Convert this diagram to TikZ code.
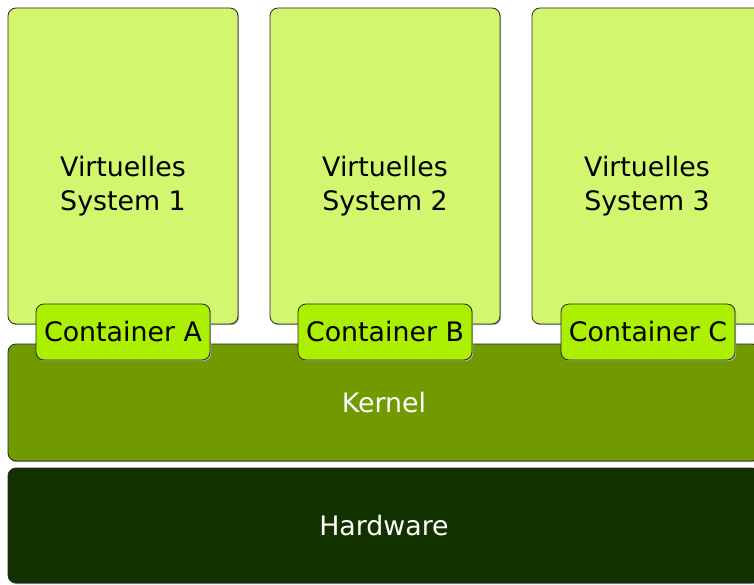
\documentclass[tikz,border=0pt]{standalone}
\usepackage{fontspec}
\setmainfont{DejaVu Sans}
\usetikzlibrary{shadows}

\definecolor{vmgreen}{RGB}{210,247,110}
\definecolor{ctgreen}{RGB}{170,240,0}
\definecolor{kngreen}{RGB}{112,154,0}
\definecolor{hwgreen}{RGB}{18,50,0}

\begin{document}
\begin{tikzpicture}[x=1pt, y=-1pt,
    box/.style={draw=black!85, line width=0.8pt, rounded corners=8pt, inner sep=0pt,
                drop shadow={shadow xshift=1.2pt, shadow yshift=-1.2pt, fill=black!30, opacity=1}},
    vmbox/.style={box, fill=vmgreen, minimum width=230pt, minimum height=316pt},
    ctbox/.style={box, fill=ctgreen, minimum width=174pt, minimum height=56pt},
    layer/.style={box, minimum width=752pt, minimum height=117pt, text=white},
    lbl/.style={font=\fontsize{26.8}{34}\selectfont, align=center}]
            \useasboundingbox (0,0) rectangle (754,585);
            \clip (0,0) rectangle (754,585);

            \node at (123,166) [vmbox] (vs1) {};
            \node at (385,166) [vmbox] (vs2) {};
            \node at (647,166) [vmbox] (vs3) {};
            \node at (123,186) [lbl] (vs1txt) {Virtuelles\\System 1};
            \node at (385,186) [lbl] (vs2txt) {Virtuelles\\System 2};
            \node at (647,186) [lbl] (vs3txt) {Virtuelles\\System 3};

            \node at (384,402.5) [layer, fill=kngreen, lbl] (kernel) {Kernel};
            \node at (384,525.5) [layer, minimum height=115pt, fill=hwgreen, lbl] (hw) {Hardware};

            \node at (123,332) [ctbox, lbl] (ctA) {Container A};
            \node at (385,332) [ctbox, lbl] (ctB) {Container B};
            \node at (648,332) [ctbox, lbl] (ctC) {Container C};
        \end{tikzpicture}
\end{document}
